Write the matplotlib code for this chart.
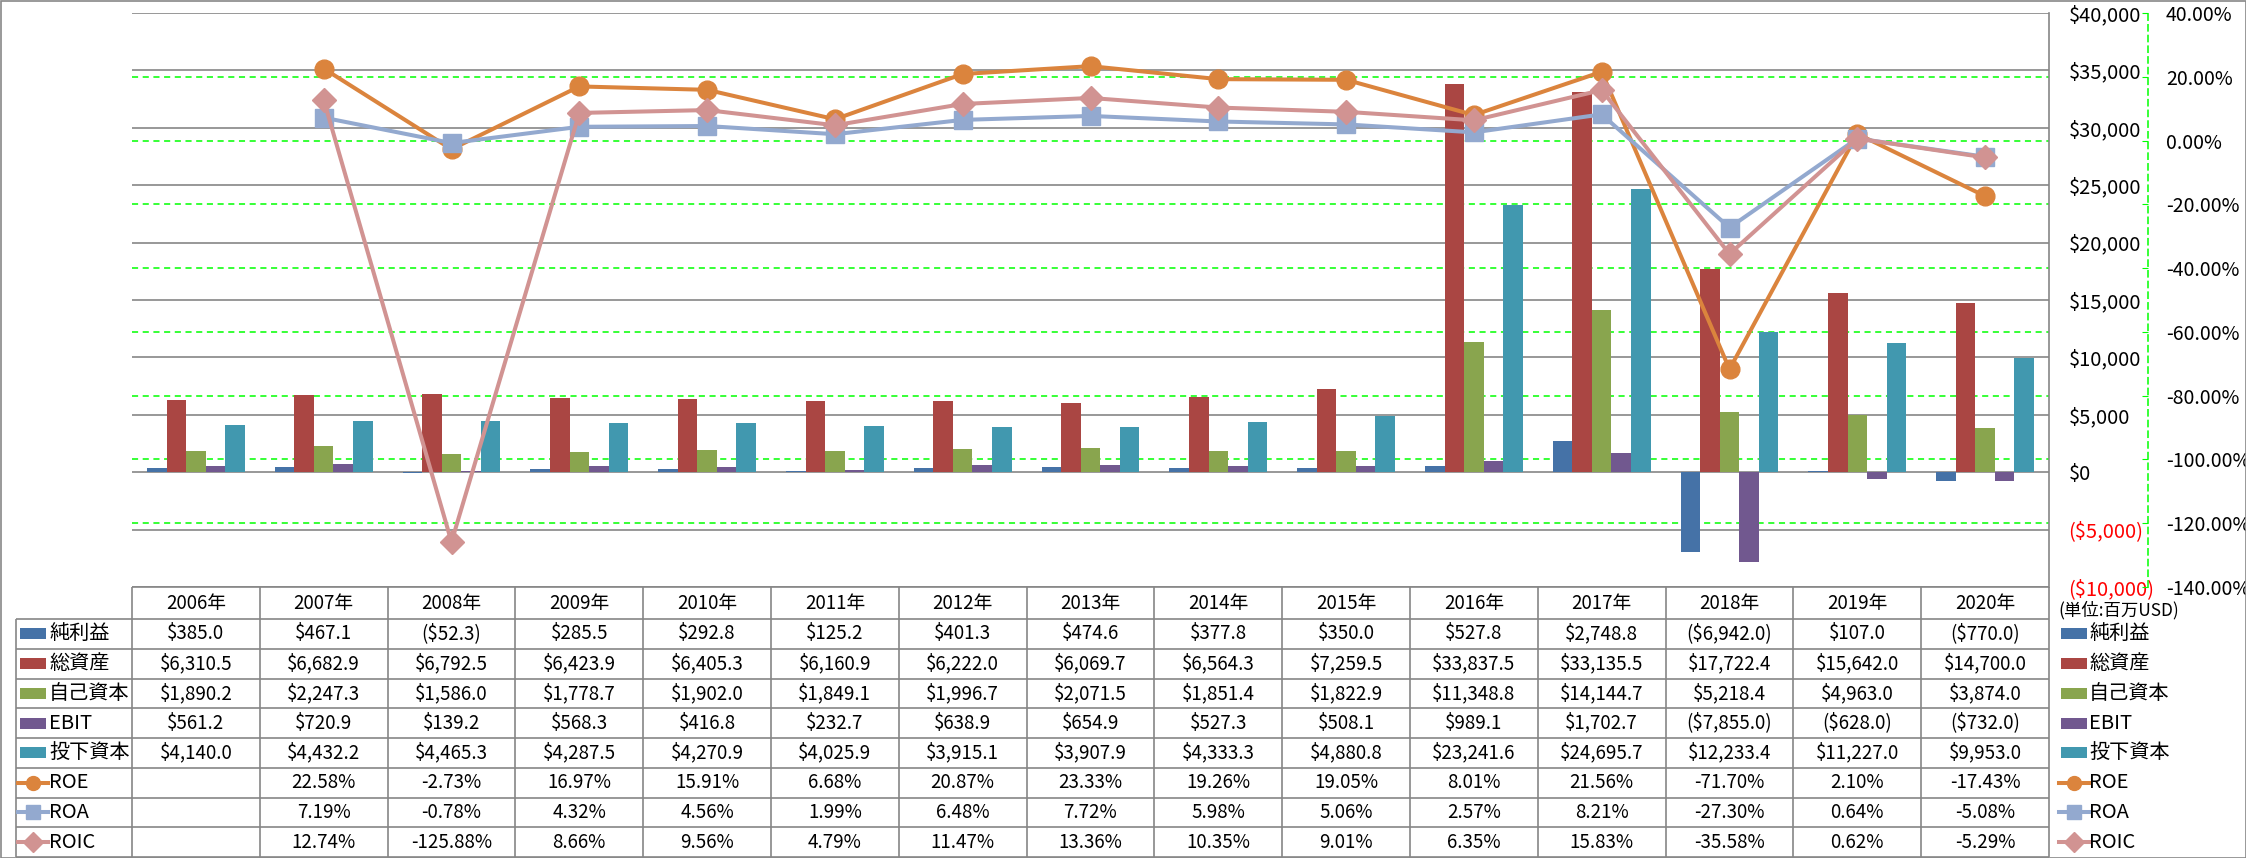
# Combo chart: financial bars ($) + return ratios (%) with data table below

import numpy as np
import matplotlib
matplotlib.use("Agg")
import matplotlib.pyplot as plt
from matplotlib.transforms import blended_transform_factory
from matplotlib.patches import Rectangle

plt.rcParams['font.family'] = ['Noto Sans CJK JP', 'DejaVu Sans']

# data (百万USD / %)
years = ["2006年", "2007年", "2008年", "2009年", "2010年", "2011年", "2012年", "2013年",
         "2014年", "2015年", "2016年", "2017年", "2018年", "2019年", "2020年"]
net_income = [385.0, 467.1, -52.3, 285.5, 292.8, 125.2, 401.3, 474.6, 377.8, 350.0,
              527.8, 2748.8, -6942.0, 107.0, -770.0]
total_assets = [6310.5, 6682.9, 6792.5, 6423.9, 6405.3, 6160.9, 6222.0, 6069.7, 6564.3,
                7259.5, 33837.5, 33135.5, 17722.4, 15642.0, 14700.0]
equity = [1890.2, 2247.3, 1586.0, 1778.7, 1902.0, 1849.1, 1996.7, 2071.5, 1851.4, 1822.9,
          11348.8, 14144.7, 5218.4, 4963.0, 3874.0]
ebit = [561.2, 720.9, 139.2, 568.3, 416.8, 232.7, 638.9, 654.9, 527.3, 508.1, 989.1,
        1702.7, -7855.0, -628.0, -732.0]
invested_capital = [4140.0, 4432.2, 4465.3, 4287.5, 4270.9, 4025.9, 3915.1, 3907.9, 4333.3,
                    4880.8, 23241.6, 24695.7, 12233.4, 11227.0, 9953.0]
roe = [np.nan, 22.58, -2.73, 16.97, 15.91, 6.68, 20.87, 23.33, 19.26, 19.05, 8.01, 21.56,
       -71.70, 2.10, -17.43]
roa = [np.nan, 7.19, -0.78, 4.32, 4.56, 1.99, 6.48, 7.72, 5.98, 5.06, 2.57, 8.21, -27.30,
       0.64, -5.08]
roic = [np.nan, 12.74, -125.88, 8.66, 9.56, 4.79, 11.47, 13.36, 10.35, 9.01, 6.35, 15.83,
        -35.58, 0.62, -5.29]

bar_names = ["純利益", "総資産", "自己資本", "EBIT", "投下資本"]
bar_series = [net_income, total_assets, equity, ebit, invested_capital]
bar_colors = ["#4572A7", "#AA4643", "#89A54E", "#71588F", "#4198AF"]
line_names = ["ROE", "ROA", "ROIC"]
line_series = [roe, roa, roic]
line_colors = ["#DB843D", "#93A9CF", "#D19392"]
line_markers = ["o", "s", "D"]
line_msizes = [13.5, 12.5, 12.5]

usd_ticks = np.arange(-10000, 40001, 5000)
pct_ticks = np.arange(-140, 41, 20)

GRAY = "#868686"
GREEN = "#00FF00"

W, H = 2246, 858
fig = plt.figure(figsize=(W / 100, H / 100), dpi=100)

# layout in pixels
PL, PR, PT, PB = 132, 2049, 13, 587
ax = fig.add_axes([PL / W, 1 - PB / H, (PR - PL) / W, (PB - PT) / H])
ax2 = ax.twinx()

x = np.arange(len(years))
bw = 0.153
for k, (vals, c) in enumerate(zip(bar_series, bar_colors)):
    ax.bar(x + (k - 2) * bw, vals, bw, color=c, zorder=2, linewidth=0)

for vals, c, m, ms in zip(line_series, line_colors, line_markers, line_msizes):
    ax2.plot(x, vals, color=c, lw=2.9, marker=m, ms=ms, mec=c, mfc=c, zorder=3)

ax.set_xlim(-0.5, len(years) - 0.5)
ax.set_ylim(usd_ticks[0], usd_ticks[-1])
ax2.set_ylim(pct_ticks[0], pct_ticks[-1])

# gridlines (behind bars)
ax.hlines(usd_ticks, -0.5, len(years) - 0.5, colors=GRAY, lw=1.2, zorder=0.5)
ax.hlines(pct_ticks[1:-1], 0, 1, transform=blended_transform_factory(ax.transAxes, ax2.transData),
          colors=GREEN, linestyles=(0, (4, 3)), lw=1.1, zorder=1)
ax.set_ylim(usd_ticks[0], usd_ticks[-1])


def usd_label(v, fmt="{:,.0f}"):
    s = "$" + fmt.format(abs(v))
    return s if v >= 0 else "(" + s + ")"


ax.set_xticks([])
ax.yaxis.tick_right()
ax.set_yticks(usd_ticks)
ax.set_yticklabels([usd_label(v) for v in usd_ticks])
ax.tick_params(axis='y', length=0, pad=14, labelsize=14.5)
for lab, v in zip(ax.get_yticklabels(), usd_ticks):
    lab.set_color("#FF0000" if v < 0 else "black")
for s in ["top", "left", "bottom"]:
    ax.spines[s].set_visible(False)
ax.spines["right"].set_color(GRAY)
ax.spines["right"].set_linewidth(1.2)

ax2.set_yticks(pct_ticks)
ax2.set_yticklabels([f"{v:.2f}%" for v in pct_ticks])
ax2.tick_params(axis='y', direction='in', length=4, color=GREEN, pad=13, labelsize=14)
for lab, v in zip(ax2.get_yticklabels(), pct_ticks):
    lab.set_color("#FF0000" if v < 0 else "black")
for s in ["top", "left", "bottom"]:
    ax2.spines[s].set_visible(False)
ax2.spines["right"].set_position(("outward", 99 * 72 / 100))
ax2.spines["right"].set_color(GREEN)
ax2.spines["right"].set_linestyle((0, (4, 3)))
ax2.spines["right"].set_linewidth(1.1)

# data table drawn in pixel coords
tab = fig.add_axes([0, 0, 1, 1])
tab.set_xlim(0, W)
tab.set_ylim(H, 0)
tab.axis("off")

col_edges = PL + np.arange(len(years) + 1) * (PR - PL) / len(years)
col_mid = (col_edges[:-1] + col_edges[1:]) / 2
row_edges = np.concatenate([[PB], 619 + np.arange(9) * 29.75])
row_mid = (row_edges[1:-1] + row_edges[2:]) / 2
TL = 16

tab.hlines(PB, PL, PR, colors=GRAY, lw=1.2)
tab.hlines(row_edges[1:], TL, PR, colors=GRAY, lw=1.2)
tab.vlines(col_edges, PB, row_edges[-1], colors=GRAY, lw=1.2)
tab.vlines(TL, row_edges[1], row_edges[-1], colors=GRAY, lw=1.2)

for xm, yr in zip(col_mid, years):
    tab.text(xm, (row_edges[0] + row_edges[1]) / 2, yr, ha="center", va="center", fontsize=13.5)


def legend_glyph(x0, yc, idx):
    if idx < len(bar_names):
        tab.add_patch(Rectangle((x0, yc - 5.5), 26, 11, color=bar_colors[idx], lw=0))
    else:
        j = idx - len(bar_names)
        tab.plot([x0 - 2, x0 + 28], [yc, yc], color=line_colors[j], lw=2.9)
        tab.plot([x0 + 13], [yc], marker=line_markers[j], ms=10, color=line_colors[j])


names = bar_names + line_names
for i, (name, yc) in enumerate(zip(names, row_mid)):
    legend_glyph(20, yc, i)
    tab.text(49, yc, name, ha="left", va="center", fontsize=14.5)
    legend_glyph(2061, yc, i)
    tab.text(2089, yc, name, ha="left", va="center", fontsize=14.5)
    if i < len(bar_names):
        vals = bar_series[i]
        labels = [usd_label(v, "{:,.1f}") for v in vals]
    else:
        vals = line_series[i - len(bar_names)]
        labels = ["" if np.isnan(v) else f"{v:.2f}%" for v in vals]
    for xm, lab in zip(col_mid, labels):
        tab.text(xm, yc, lab, ha="center", va="center", fontsize=13.5)

tab.text(2058, 610, "(単位:百万USD)", ha="left", va="center", fontsize=12.5)

# outer border
tab.add_patch(Rectangle((0.5, 0.5), W - 1, H - 1, fill=False, edgecolor="#888888", lw=1.2))

fig.savefig("out.png", dpi=100)
